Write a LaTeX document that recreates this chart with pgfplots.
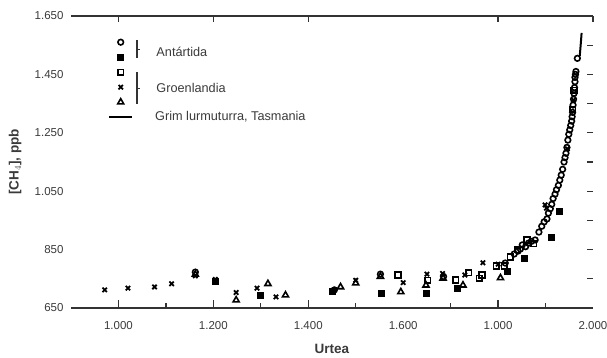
\documentclass[border=0pt]{standalone}
\usepackage{pgfplots}
\pgfplotsset{compat=1.18}
\usepackage{fontspec}
\setmainfont{Liberation Sans}
\definecolor{axgray}{HTML}{333333}
\definecolor{txtgray}{HTML}{3A3A3A}

\begin{document}
\begin{tikzpicture}
\pgfplotsset{
  base/.style={width=522bp,height=292bp,scale only axis,
    xmin=900,xmax=2000,ymin=650,ymax=1650,clip=false,
    separate axis lines,
    x axis line style={draw=none},
    y axis line style={draw=none},
    xticklabels={},yticklabels={},
    tick label style={opacity=0},
    every tick/.style={axgray,line width=1.2bp},
    every minor tick/.style={axgray,line width=1.2bp}},
}
% bottom and left ticks
\begin{axis}[base,
  xtick={1000,1200,1400,1800},
  minor xtick={1100,1300,1500,1700,1900},
  ytick=\empty,
  minor ytick={750,850,950,1150,1250,1350},
  xtick pos=bottom, ytick pos=left,
  major tick length=8bp, minor tick length=5.5bp]
\end{axis}
% top and right ticks
\begin{axis}[base,
  xtick={1000,1200,1400,1800,2000},
  ytick={750,850,950,1050,1150,1250,1350,1450,1550},
  xtick pos=top, ytick pos=right,
  major tick length=6bp]
\end{axis}
% main axis
\begin{axis}[
  width=522bp,height=292bp,scale only axis,
  xmin=900,xmax=2000,ymin=650,ymax=1650,clip=false,
  separate axis lines,
  x axis line style={axgray,line width=1.3bp},
  y axis line style={draw=none},
  major tick length=0pt,
  xtick={1000,1200,1400,1600,1800,2000},
  xticklabels={1.000,1.200,1.400,1.600,1.000,2.000},
  ytick={650,850,1050,1250,1450,1650},
  yticklabels={650,850,1.050,1.250,1.450,1.650},
  ticklabel style={font=\fontsize{11.5bp}{13bp}\selectfont,text=txtgray},
  xticklabel style={yshift=-10bp},
  yticklabel style={xshift=-4bp},
  xlabel={Urtea},
  ylabel={[CH$_4$], ppb},
  label style={font=\bfseries\fontsize{13.5bp}{16bp}\selectfont,text=txtgray},
  xlabel style={at={(axis description cs:0.5,-0.140)},anchor=center},
  ylabel style={at={(axis description cs:-0.107,0.5)},anchor=center},
  legend image code/.code={\draw[mark repeat=2,mark phase=2,#1] plot coordinates {(0bp,0bp) (11.5bp,0bp) (23bp,0bp)};},
  legend style={at={(rel axis cs:0.0709,0.923)},anchor=north west,draw=none,fill=none,inner sep=0pt,
    row sep=8bp,column sep=22bp,
    font=\fontsize{12.7bp}{15bp}\selectfont,text=txtgray,
    nodes={inner sep=0pt,text height=7bp,text depth=0pt}},
  legend cell align=left,
  every axis plot/.append style={black,line width=1.6bp},
]
% Antartida, open circles
\addplot[only marks,mark=o,mark size=2.8bp] coordinates {
(1162,773)(1455,712)(1552,766)(1685,758)(1815,804)(1834,835)(1842,845)(1847,852)
(1851,866)(1858,860)(1864,872)(1870,878)(1878,883)(1886,910)(1892,930)(1897,945)
(1903,955)(1906,975)(1910,990)(1913,1005)(1916,1025)(1920,1040)(1923,1055)
(1927,1070)(1930,1088)(1933,1105)(1936,1125)(1939,1150)(1941,1165)(1943,1180)
(1945,1200)(1947,1225)(1949,1245)(1951,1260)(1953,1275)(1955,1290)(1956,1305)
(1957,1320)(1958,1345)(1959,1365)(1960,1385)(1961,1405)(1962,1425)(1962,1440)
(1963,1450)(1964,1460)(1967,1505)
};
\addlegendentry{\mbox{}}
% Antartida, filled squares
\addplot[only marks,mark=square*,mark size=2.7bp] coordinates {
(1204,740)(1300,694)(1450,708)(1554,701)(1650,701)(1715,718)(1820,776)(1855,821)
(1912,893)(1930,979)
};
\addlegendentry{\mbox{}}
% Groenlandia, open squares
\addplot[only marks,mark=square,mark size=2.8bp] coordinates {
(1589,763)(1652,745)(1711,746)(1738,771)(1760,752)(1766,763)(1796,794)(1813,794)
(1826,825)(1841,849)(1861,883)(1875,870)(1957,1330)(1960,1395)
};
\addlegendentry{\mbox{}}
% Groenlandia, crosses
\addplot[only marks,mark=x,mark size=3.1bp,line width=1.8bp] coordinates {
(971,712)(1020,718)(1076,722)(1112,733)(1162,760)(1204,748)(1248,703)(1292,718)
(1332,688)(1500,745)(1600,737)(1650,766)(1683,768)(1730,763)(1768,805)(1800,800)
(1899,1003)(1902,992)(1946,1195)(1959,1362)
};
\addlegendentry{\mbox{}}
% Groenlandia, triangles
\addplot[only marks,mark=triangle,mark size=3.5bp] coordinates {
(1162,765)(1248,677)(1315,733)(1352,694)(1468,722)(1500,735)(1552,758)(1595,705)
(1648,728)(1684,752)(1726,728)(1805,753)
};
\addlegendentry{\mbox{}}
% Cape Grim, Tasmania
\addplot[no marks,line width=2bp] coordinates {
(1972,1512)(1974,1550)(1976,1592)
};
\addlegendentry{Grim lurmuturra, Tasmania}

\node[anchor=west,font=\fontsize{12.7bp}{15bp}\selectfont,text=txtgray] at (rel axis cs:0.157,0.877) {Antártida};
\node[anchor=west,font=\fontsize{12.7bp}{15bp}\selectfont,text=txtgray] at (rel axis cs:0.157,0.753) {Groenlandia};
\draw[axgray,line width=1.2bp] (rel axis cs:0.1264,0.918) -- (rel axis cs:0.1264,0.856);
\draw[axgray,line width=1.2bp] (rel axis cs:0.1264,0.884) -- (rel axis cs:0.1322,0.884);
\draw[axgray,line width=1.2bp] (rel axis cs:0.1264,0.808) -- (rel axis cs:0.1264,0.699);
\draw[axgray,line width=1.2bp] (rel axis cs:0.1264,0.753) -- (rel axis cs:0.1322,0.753);
\end{axis}
\pgfresetboundingbox
\path[use as bounding box] (-71bp,-50bp) rectangle (536bp,308bp);
\end{tikzpicture}
\end{document}
